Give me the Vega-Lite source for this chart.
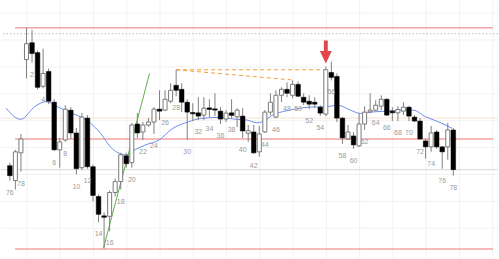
{
  "$schema": "https://vega.github.io/schema/vega-lite/v6.json",
  "width": 499,
  "height": 259,
  "padding": 0,
  "autosize": {"type": "fit", "contains": "padding"},
  "background": "white",
  "config": {"view": {"stroke": null}},
  "datasets": {
    "candles": [
      {"i": -2, "o": 93, "h": 96, "l": 78, "c": 83, "lab": "76"},
      {"i": -1, "o": 78, "h": 109, "l": 69, "c": 107, "lab": ""},
      {"i": 0, "o": 106, "h": 125, "l": 87, "c": 120, "lab": "78"},
      {"i": 1, "o": 200, "h": 232, "l": 181, "c": 216, "lab": ""},
      {"i": 2, "o": 217, "h": 230, "l": 197, "c": 206, "lab": "2"},
      {"i": 3, "o": 207, "h": 209, "l": 170, "c": 172, "lab": ""},
      {"i": 4, "o": 173, "h": 211, "l": 171, "c": 186, "lab": "4"},
      {"i": 5, "o": 188, "h": 191, "l": 155, "c": 158, "lab": ""},
      {"i": 6, "o": 157, "h": 160, "l": 108, "c": 109, "lab": "6"},
      {"i": 7, "o": 109, "h": 121, "l": 91, "c": 117, "lab": ""},
      {"i": 8, "o": 119, "h": 154, "l": 117, "c": 150, "lab": "8"},
      {"i": 9, "o": 149, "h": 152, "l": 120, "c": 126, "lab": ""},
      {"i": 10, "o": 126, "h": 131, "l": 84, "c": 90, "lab": "10"},
      {"i": 11, "o": 91, "h": 146, "l": 89, "c": 142, "lab": ""},
      {"i": 12, "o": 141, "h": 144, "l": 90, "c": 92, "lab": "12"},
      {"i": 13, "o": 92, "h": 94, "l": 57, "c": 63, "lab": ""},
      {"i": 14, "o": 62, "h": 64, "l": 36, "c": 44, "lab": "14"},
      {"i": 15, "o": 42.5, "h": 46, "l": 9.5, "c": 41, "lab": ""},
      {"i": 16, "o": 42, "h": 68, "l": 27, "c": 66, "lab": "16"},
      {"i": 17, "o": 66, "h": 80, "l": 62, "c": 77, "lab": ""},
      {"i": 18, "o": 77, "h": 106, "l": 69, "c": 104, "lab": "18"},
      {"i": 19, "o": 103, "h": 106, "l": 91, "c": 95, "lab": ""},
      {"i": 20, "o": 96, "h": 136, "l": 91, "c": 134, "lab": "20"},
      {"i": 21, "o": 135, "h": 146, "l": 121, "c": 126, "lab": ""},
      {"i": 22, "o": 127, "h": 137, "l": 119, "c": 134, "lab": "22"},
      {"i": 23, "o": 134, "h": 141, "l": 132, "c": 137, "lab": ""},
      {"i": 24, "o": 137, "h": 152, "l": 125, "c": 150, "lab": "24"},
      {"i": 25, "o": 150, "h": 169, "l": 139, "c": 148, "lab": ""},
      {"i": 26, "o": 149, "h": 169, "l": 148, "c": 160, "lab": "26"},
      {"i": 27, "o": 158, "h": 176, "l": 156, "c": 169, "lab": ""},
      {"i": 28, "o": 174, "h": 189.7, "l": 163, "c": 169, "lab": "28"},
      {"i": 29, "o": 170, "h": 176, "l": 147, "c": 157, "lab": ""},
      {"i": 30, "o": 157, "h": 160, "l": 119, "c": 147, "lab": "30"},
      {"i": 31, "o": 146.7, "h": 156, "l": 138, "c": 145.3, "lab": ""},
      {"i": 32, "o": 146.3, "h": 162, "l": 139, "c": 143, "lab": "32"},
      {"i": 33, "o": 144, "h": 162, "l": 139, "c": 151, "lab": ""},
      {"i": 34, "o": 151.3, "h": 160, "l": 142, "c": 149.7, "lab": "34"},
      {"i": 35, "o": 150.3, "h": 166, "l": 143, "c": 149, "lab": ""},
      {"i": 36, "o": 148, "h": 152, "l": 135, "c": 140, "lab": "36"},
      {"i": 37, "o": 140, "h": 149, "l": 137, "c": 146, "lab": ""},
      {"i": 38, "o": 146.3, "h": 160, "l": 141, "c": 143.7, "lab": "38"},
      {"i": 39, "o": 142.3, "h": 151, "l": 132, "c": 149, "lab": ""},
      {"i": 40, "o": 143, "h": 151, "l": 121, "c": 128, "lab": "40"},
      {"i": 41, "o": 125.7, "h": 134, "l": 117, "c": 128.3, "lab": ""},
      {"i": 42, "o": 127, "h": 134, "l": 105, "c": 106, "lab": "42"},
      {"i": 43, "o": 107, "h": 133, "l": 102, "c": 125, "lab": ""},
      {"i": 44, "o": 127, "h": 149, "l": 126, "c": 147, "lab": "44"},
      {"i": 45, "o": 147, "h": 166, "l": 144, "c": 157, "lab": ""},
      {"i": 46, "o": 142, "h": 169, "l": 141, "c": 164, "lab": "46"},
      {"i": 47, "o": 164, "h": 172, "l": 157, "c": 170, "lab": ""},
      {"i": 48, "o": 170, "h": 177, "l": 162, "c": 166, "lab": "48"},
      {"i": 49, "o": 164, "h": 179, "l": 161, "c": 175, "lab": ""},
      {"i": 50, "o": 175, "h": 178, "l": 162, "c": 163, "lab": "50"},
      {"i": 51, "o": 162, "h": 166, "l": 154, "c": 157, "lab": ""},
      {"i": 52, "o": 158, "h": 164, "l": 150, "c": 155, "lab": "52"},
      {"i": 53, "o": 157, "h": 162, "l": 151, "c": 155, "lab": ""},
      {"i": 54, "o": 152, "h": 154, "l": 143, "c": 146, "lab": "54"},
      {"i": 55, "o": 145, "h": 193, "l": 143, "c": 189.7, "lab": ""},
      {"i": 56, "o": 187, "h": 198, "l": 179, "c": 182, "lab": "56"},
      {"i": 57, "o": 183, "h": 186, "l": 137, "c": 141, "lab": ""},
      {"i": 58, "o": 141, "h": 142, "l": 115, "c": 121, "lab": "58"},
      {"i": 59, "o": 120, "h": 134, "l": 119, "c": 127, "lab": ""},
      {"i": 60, "o": 123, "h": 127, "l": 110, "c": 114, "lab": "60"},
      {"i": 61, "o": 113, "h": 146, "l": 112, "c": 135, "lab": ""},
      {"i": 62, "o": 135, "h": 153, "l": 129, "c": 147, "lab": "62"},
      {"i": 63, "o": 147.3, "h": 166, "l": 146, "c": 149, "lab": ""},
      {"i": 64, "o": 149, "h": 159, "l": 148, "c": 154, "lab": "64"},
      {"i": 65, "o": 153, "h": 164, "l": 149, "c": 160, "lab": ""},
      {"i": 66, "o": 160, "h": 161, "l": 143, "c": 144, "lab": "66"},
      {"i": 67, "o": 148, "h": 152, "l": 138, "c": 146.3, "lab": ""},
      {"i": 68, "o": 146.3, "h": 153, "l": 138, "c": 149.7, "lab": "68"},
      {"i": 69, "o": 148, "h": 157, "l": 144, "c": 152, "lab": ""},
      {"i": 70, "o": 152, "h": 153, "l": 138, "c": 143, "lab": "70"},
      {"i": 71, "o": 142, "h": 144, "l": 137, "c": 138, "lab": ""},
      {"i": 72, "o": 138, "h": 141, "l": 119, "c": 120, "lab": "72"},
      {"i": 73, "o": 118, "h": 120, "l": 100, "c": 112, "lab": ""},
      {"i": 74, "o": 112, "h": 133, "l": 107, "c": 126, "lab": "74"},
      {"i": 75, "o": 127, "h": 129, "l": 110, "c": 112, "lab": ""},
      {"i": 76, "o": 112, "h": 113, "l": 90, "c": 107, "lab": "76"},
      {"i": 77, "o": 112, "h": 136, "l": 99, "c": 129, "lab": ""},
      {"i": 78, "o": 129, "h": 131, "l": 83, "c": 89, "lab": "78"}
    ],
    "ma": [
      {"i": -2.69, "p": 151}, {"i": -0.05, "p": 139.7}, {"i": 2.59, "p": 153},
      {"i": 4.52, "p": 157.5}, {"i": 5.4, "p": 156.5}, {"i": 6.11, "p": 154},
      {"i": 7.34, "p": 150.5}, {"i": 9.1, "p": 146}, {"i": 10.86, "p": 142},
      {"i": 12.62, "p": 135.5}, {"i": 14.38, "p": 125.5}, {"i": 16.14, "p": 112},
      {"i": 17.55, "p": 106}, {"i": 19.14, "p": 104}, {"i": 20.55, "p": 109},
      {"i": 22.48, "p": 114}, {"i": 24.95, "p": 119}, {"i": 27.24, "p": 130},
      {"i": 30.23, "p": 137.3}, {"i": 32.52, "p": 140.7}, {"i": 35.51, "p": 141.7},
      {"i": 39.03, "p": 139.7}, {"i": 40.79, "p": 139}, {"i": 42.55, "p": 136.3},
      {"i": 43.61, "p": 137.3}, {"i": 45.37, "p": 144}, {"i": 47.84, "p": 148.3},
      {"i": 50.12, "p": 150.7}, {"i": 53.12, "p": 152.3}, {"i": 54.88, "p": 152.3},
      {"i": 57.16, "p": 154}, {"i": 59.45, "p": 149}, {"i": 61.21, "p": 145.7},
      {"i": 63.68, "p": 147.3}, {"i": 65.97, "p": 148}, {"i": 68.26, "p": 149},
      {"i": 70.77, "p": 149}, {"i": 73.01, "p": 142.3}, {"i": 75.3, "p": 137.3},
      {"i": 77.77, "p": 130.7}
    ],
    "vgrid": [
      {"i": 1.1}, {"i": 7.1}, {"i": 13.1}, {"i": 19.1}, {"i": 25.1}, {"i": 31.1},
      {"i": 37.1}, {"i": 43.1}, {"i": 49.1}, {"i": 55.1}, {"i": 61.1}, {"i": 67.1},
      {"i": 73.1}, {"i": 79.1}, {"i": 85.1}
    ],
    "hgrid": [
      {"p": 30}, {"p": 57.1}, {"p": 84.2}, {"p": 111.3}, {"p": 138.4},
      {"p": 165.5}, {"p": 192.6}, {"p": 219.7}, {"p": 246.8}
    ],
    "redlevels": [
      {"p": 232}, {"p": 120}, {"p": 9}
    ],
    "green": [
      {"i": 14.9, "p": 10},
      {"i": 23.2, "p": 186}
    ],
    "orange": [
      {"i": 28, "p": 189.7, "s": "a"},
      {"i": 55, "p": 189.7, "s": "a"},
      {"i": 28, "p": 189.7, "s": "b"},
      {"i": 48.8, "p": 179.5, "s": "b"}
    ],
    "arrow": [{"i": 55, "p": 207.5}]
  },
  "layer": [
    {
      "data": {"name": "vgrid"},
      "mark": {"type": "rule", "color": "#f2f2f2", "strokeWidth": 1},
      "encoding": {
        "x": {"field": "i", "type": "quantitative", "scale": {"domain": [-2.694, 85.16], "nice": false, "zero": false}, "axis": null}
      }
    },
    {
      "data": {"name": "hgrid"},
      "mark": {"type": "rule", "color": "#f2f2f2", "strokeWidth": 1},
      "encoding": {
        "y": {"field": "p", "type": "quantitative", "scale": {"domain": [0, 259], "nice": false, "zero": false}, "axis": null}
      }
    },
    {
      "data": {"values": [{"p": 141}]},
      "mark": {"type": "rule", "color": "#fbe2d2", "strokeWidth": 1},
      "encoding": {"y": {"field": "p", "type": "quantitative"}}
    },
    {
      "data": {"values": [{"p": 89}]},
      "mark": {"type": "rule", "color": "#d8d8d8", "strokeWidth": 1},
      "encoding": {"y": {"field": "p", "type": "quantitative"}}
    },
    {
      "data": {"values": [{"p": 226}]},
      "mark": {"type": "rule", "color": "#bdbdbd", "strokeWidth": 1, "strokeDash": [1.5, 2]},
      "encoding": {"y": {"field": "p", "type": "quantitative"}}
    },
    {
      "data": {"name": "redlevels"},
      "mark": {"type": "rule", "color": "#f3a3a3", "strokeWidth": 1.5},
      "encoding": {
        "x": {"datum": -1.06, "type": "quantitative"},
        "x2": {"datum": 85.16},
        "y": {"field": "p", "type": "quantitative"}
      }
    },
    {
      "data": {"name": "ma"},
      "mark": {"type": "line", "color": "#6f8ff0", "strokeWidth": 1, "interpolate": "monotone"},
      "encoding": {
        "x": {"field": "i", "type": "quantitative"},
        "y": {"field": "p", "type": "quantitative"}
      }
    },
    {
      "data": {"name": "green"},
      "mark": {"type": "line", "color": "#5fae4c", "strokeWidth": 1},
      "encoding": {
        "x": {"field": "i", "type": "quantitative"},
        "y": {"field": "p", "type": "quantitative"}
      }
    },
    {
      "data": {"name": "orange"},
      "mark": {"type": "line", "color": "#f2a03d", "strokeWidth": 1, "strokeDash": [4, 3]},
      "encoding": {
        "x": {"field": "i", "type": "quantitative"},
        "y": {"field": "p", "type": "quantitative"},
        "detail": {"field": "s"}
      }
    },
    {
      "data": {"name": "candles"},
      "mark": {"type": "rule", "color": "#808080", "strokeWidth": 1},
      "encoding": {
        "x": {"field": "i", "type": "quantitative"},
        "y": {"field": "l", "type": "quantitative"},
        "y2": {"field": "h"}
      }
    },
    {
      "data": {"name": "candles"},
      "transform": [{"filter": "datum.c >= datum.o"}],
      "mark": {"type": "bar", "width": 4, "fill": "white", "stroke": "#7a7a7a", "strokeWidth": 1},
      "encoding": {
        "x": {"field": "i", "type": "quantitative"},
        "y": {"field": "o", "type": "quantitative"},
        "y2": {"field": "c"}
      }
    },
    {
      "data": {"name": "candles"},
      "transform": [{"filter": "datum.c < datum.o"}],
      "mark": {"type": "bar", "width": 4.6, "fill": "black", "stroke": "black", "strokeWidth": 0.5},
      "encoding": {
        "x": {"field": "i", "type": "quantitative"},
        "y": {"field": "o", "type": "quantitative"},
        "y2": {"field": "c"}
      }
    },
    {
      "data": {"name": "candles"},
      "transform": [{"filter": "datum.lab != ''"}],
      "mark": {"type": "text", "fontSize": 7, "font": "Liberation Sans", "fill": "#9a9a9a", "dy": 12, "baseline": "middle", "align": "center"},
      "encoding": {
        "x": {"field": "i", "type": "quantitative"},
        "y": {"field": "l", "type": "quantitative"},
        "text": {"field": "lab"}
      }
    },
    {
      "data": {"name": "arrow"},
      "mark": {"type": "point", "filled": true, "color": "#e2474a", "opacity": 1, "size": 529, "shape": "M-0.17,-1 L0.17,-1 L0.17,-0.1 L0.52,-0.1 L0,1 L-0.52,-0.1 L-0.17,-0.1 Z"},
      "encoding": {
        "x": {"field": "i", "type": "quantitative"},
        "y": {"field": "p", "type": "quantitative"}
      }
    }
  ]
}
